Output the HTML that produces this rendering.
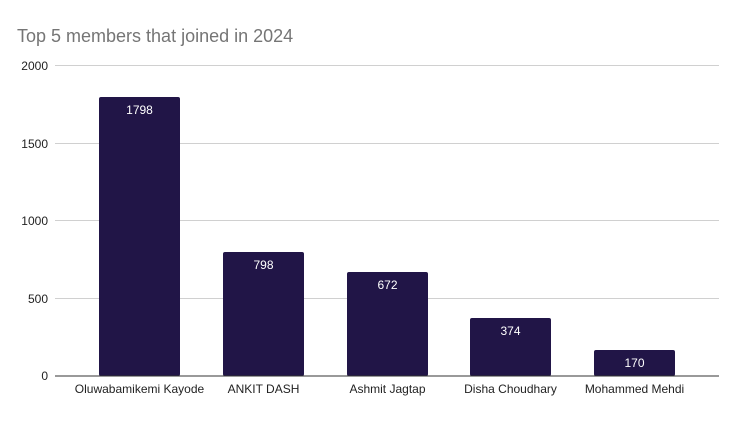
<!DOCTYPE html>
<html><head><style>body{margin:0;background:#fff}</style></head><body>
<svg width="739" height="417" xmlns="http://www.w3.org/2000/svg" font-family="Liberation Sans, sans-serif">
<rect width="739" height="417" fill="#fff"/>
<text x="17" y="42" font-size="18" fill="#757575">Top 5 members that joined in 2024</text>
<g stroke="#d0d0d0" stroke-width="1">
<line x1="55" x2="719" y1="65.5" y2="65.5"/>
<line x1="55" x2="719" y1="143.5" y2="143.5"/>
<line x1="55" x2="719" y1="220.5" y2="220.5"/>
<line x1="55" x2="719" y1="298.5" y2="298.5"/>
</g>
<g font-size="12" fill="#222" text-anchor="end">
<text x="48" y="70">2000</text><text x="48" y="148">1500</text><text x="48" y="225">1000</text><text x="48" y="303">500</text><text x="48" y="380">0</text>
</g>
<g fill="#211547">
<rect x="99" y="97" width="81" height="279" rx="2"/>
<rect x="223" y="252" width="81" height="124" rx="2"/>
<rect x="347" y="272" width="81" height="104" rx="2"/>
<rect x="470" y="318" width="81" height="58" rx="2"/>
<rect x="594" y="350" width="81" height="26" rx="2"/>
</g>
<line x1="55" x2="719" y1="376" y2="376" stroke="#333" stroke-width="1"/>
<g font-size="12" fill="#fff" text-anchor="middle">
<text x="139.5" y="114">1798</text><text x="263.5" y="269">798</text><text x="387.5" y="289">672</text><text x="510.5" y="335">374</text><text x="634.5" y="367">170</text>
</g>
<g font-size="12" fill="#222" text-anchor="middle">
<text x="139.5" y="393">Oluwabamikemi Kayode</text><text x="263.5" y="393">ANKIT DASH</text><text x="387.5" y="393">Ashmit Jagtap</text><text x="510.5" y="393">Disha Choudhary</text><text x="634.5" y="393">Mohammed Mehdi</text>
</g>
</svg>
</body></html>
